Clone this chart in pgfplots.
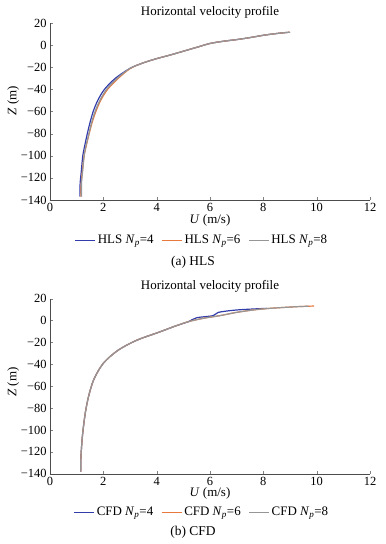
\documentclass[border=0pt]{standalone}
\usepackage{pgfplots}
\pgfplotsset{compat=1.18}
\usepackage{fontspec}
\setmainfont{Liberation Serif}
\definecolor{cblue}{RGB}{50,60,170}
\definecolor{corange}{RGB}{232,120,60}
\definecolor{cgray}{RGB}{150,150,150}
\pgfplotsset{
  every axis title shift=0pt,
  myax/.style={
    scale only axis, width=320bp,
    xmin=0, xmax=12, ymin=-140, ymax=20,
    axis x line*=bottom, axis y line*=left,
    tick align=inside, major tick length=3bp,
    xtick={0,2,...,12},
    xticklabels={0,2,4,6,8,10,12},
    ytick={-140,-120,...,20},
    yticklabels={−140,−120,−100,−80,−60,−40,−20,0,20},
    tick label style={font=\fontsize{12.5}{14}\selectfont},
    label style={font=\fontsize{13}{15}\selectfont},
    xlabel={\textit{U} (m/s)},
    ylabel={\textit{Z} (m)},
    xlabel style={at={(axis description cs:0.5,-0.115)}, anchor=center},
    title={Horizontal velocity profile},
    legend columns=3,
    legend style={draw=none, fill=none, font=\fontsize{13}{15}\selectfont, anchor=center,
      /tikz/every even column/.append style={column sep=6bp}},
    legend image code/.code={\draw[#1, line width=1pt] (0bp,0bp) -- (20bp,0bp);},
    every axis plot/.append style={line width=1.2pt, smooth, tension=0.5},
    axis line style={black!70},
  }
}
\begin{document}
\begin{tikzpicture}
\useasboundingbox (-50bp,-344bp) rectangle (336bp,200bp);
\begin{axis}[myax, height=177bp, at={(0,0)}, anchor=south west,
  title style={at={(axis description cs:0.5,1.059)}, anchor=center, yshift=0pt, font=\fontsize{13}{15}\selectfont},
  ylabel style={at={(axis description cs:-0.115,0.56)}, anchor=center},
  legend style={at={(axis description cs:0.475,-0.226)}}]
\addplot[cblue] coordinates {(1.12,-137) (1.13,-125) (1.17,-115) (1.23,-100) (1.31,-90) (1.4,-80) (1.5,-70) (1.62,-60) (1.79,-50) (2.04,-40) (2.45,-30) (3.0,-21) (3.5,-16) (4.0,-12.2) (4.5,-9) (5.0,-5.5) (5.5,-2) (6,1.5) (6.5,3.5) (7,5) (7.5,6.8) (8,8.9) (8.5,10.5) (8.95,11.6)};
\addlegendentry{HLS \textit{N}\textsubscript{\textit{p}}=4}
\addplot[corange] coordinates {(1.16,-137) (1.17,-125) (1.21,-115) (1.28,-100) (1.37,-90) (1.47,-80) (1.58,-70) (1.72,-60) (1.9,-50) (2.16,-40) (2.56,-30) (3.02,-21) (3.5,-16) (4.0,-12.2) (4.5,-9) (5.0,-5.5) (5.5,-2) (6,1.5) (6.5,3.5) (7,5) (7.5,6.8) (8,8.9) (8.5,10.5) (9,11.7)};
\addlegendentry{HLS \textit{N}\textsubscript{\textit{p}}=6}
\addplot[cgray] coordinates {(1.18,-137) (1.18,-125) (1.22,-115) (1.28,-100) (1.36,-90) (1.46,-80) (1.56,-70) (1.69,-60) (1.87,-50) (2.12,-40) (2.52,-30) (3.0,-21) (3.5,-16) (4.0,-12.2) (4.5,-9) (5.0,-5.5) (5.5,-2) (6,1.5) (6.5,3.5) (7,5) (7.5,6.8) (8,8.9) (8.5,10.5) (9,11.7)};
\addlegendentry{HLS \textit{N}\textsubscript{\textit{p}}=8}
\end{axis}
\node[font=\fontsize{13.5}{15}\selectfont] at (143bp,-62bp) {(a) HLS};
\begin{axis}[myax, height=175bp, at={(0,-273.7bp)}, anchor=south west,
  title style={at={(axis description cs:0.5,1.071)}, anchor=center, yshift=0pt, font=\fontsize{13}{15}\selectfont},
  ylabel style={at={(axis description cs:-0.115,0.524)}, anchor=center},
  legend style={at={(axis description cs:0.475,-0.219)}}]
\addplot[cblue] coordinates {(1.15,-138) (1.16,-125) (1.2,-110) (1.24,-100) (1.32,-85) (1.44,-70) (1.64,-54) (2.0,-39) (2.56,-27) (3.25,-18) (4.1,-10.5) (4.7,-5) (5.19,-1) (5.5,2.6) (6.12,4.5) (6.31,7.5) (7.0,9.7) (8.12,11.2)};
\addlegendentry{CFD \textit{N}\textsubscript{\textit{p}}=4}
\addplot[corange] coordinates {(1.15,-138) (1.16,-125) (1.2,-110) (1.24,-100) (1.32,-85) (1.44,-70) (1.64,-54) (2.0,-39) (2.56,-27) (3.25,-18) (4.1,-10.5) (4.7,-5) (5.19,-1) (5.75,2.1) (6.37,4.5) (7.0,7.5) (7.62,9.7) (8.25,11.2) (9.25,12.7) (9.9,13.3)};
\addlegendentry{CFD \textit{N}\textsubscript{\textit{p}}=6}
\addplot[cgray] coordinates {(1.15,-138) (1.16,-125) (1.2,-110) (1.24,-100) (1.32,-85) (1.44,-70) (1.64,-54) (2.0,-39) (2.56,-27) (3.25,-18) (4.1,-10.5) (4.7,-5) (5.19,-1) (5.75,2.1) (6.37,4.5) (7.0,7.5) (7.62,9.7) (8.25,11.2) (9.25,12.7) (9.7,13.1)};
\addlegendentry{CFD \textit{N}\textsubscript{\textit{p}}=8}
\end{axis}
\node[font=\fontsize{13.5}{15}\selectfont] at (143bp,-332bp) {(b) CFD};
\end{tikzpicture}
\end{document}
